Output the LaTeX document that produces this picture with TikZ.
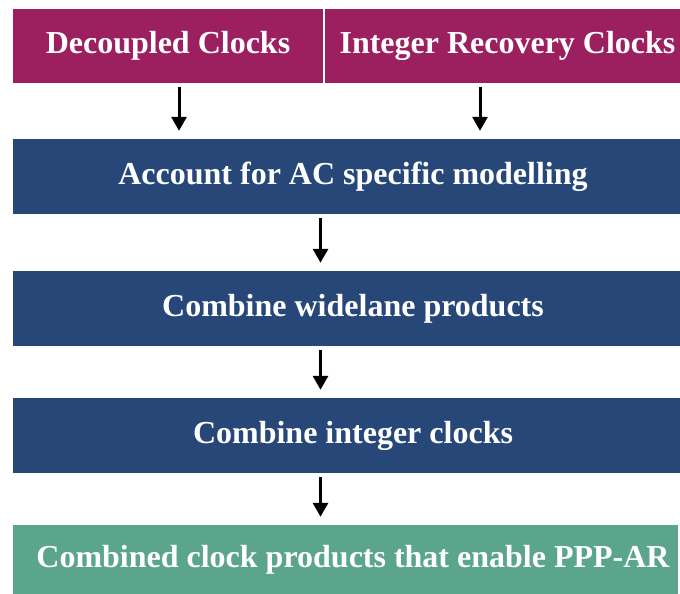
\documentclass[tikz,border=0pt]{standalone}
\usepackage{fontspec}
\setmainfont{Liberation Serif}
\usepackage{tikz}
\usetikzlibrary{arrows.meta}
\definecolor{clockred}{RGB}{156,31,96}
\definecolor{stepblue}{RGB}{38,71,120}
\definecolor{endgreen}{RGB}{90,165,140}

\begin{document}
\begin{tikzpicture}[x=1pt,y=1pt,
box/.style={rectangle,inner sep=0pt,text=white,font=\fontsize{32}{38}\selectfont\bfseries,minimum height=75pt,execute at begin node={\hspace*{#1}}},
box/.default=13pt,
flow/.style={-{Triangle[width=15pt,length=14pt]},line width=3pt,shorten <=4pt,shorten >=8pt}]
\useasboundingbox(0,0)rectangle(680,-594);
\node[box=0pt,fill=clockred,minimum width=310pt,minimum height=74pt](dec)at(168,-46){Decoupled Clocks};
\node[box=10pt,fill=clockred,minimum width=355pt,minimum height=74pt](irc)at(502.5,-46){Integer Recovery Clocks};
\node[box,fill=stepblue,minimum width=667pt](acm)at(346.5,-176.5){Account for AC specific modelling};
\node[box,fill=stepblue,minimum width=667pt](wl)at(346.5,-308.5){Combine widelane products};
\node[box,fill=stepblue,minimum width=667pt](ic)at(346.5,-435.5){Combine integer clocks};
\node[box=15pt,fill=endgreen,minimum width=665pt,minimum height=69pt](cp)at(345.5,-559.5){Combined clock products that enable PPP-AR};
\draw[flow]([xshift=11pt]dec.south)--([xshift=11pt]dec.south|-acm.north);
\draw[flow]([xshift=-22.5pt]irc.south)--([xshift=-22.5pt]irc.south|-acm.north);
\draw[flow]([xshift=-26pt]acm.south)--([xshift=-26pt]wl.north);
\draw[flow]([xshift=-26pt]wl.south)--([xshift=-26pt]ic.north);
\draw[flow]([xshift=-26pt]ic.south)--([xshift=-25pt]cp.north);
\end{tikzpicture}
\end{document}
